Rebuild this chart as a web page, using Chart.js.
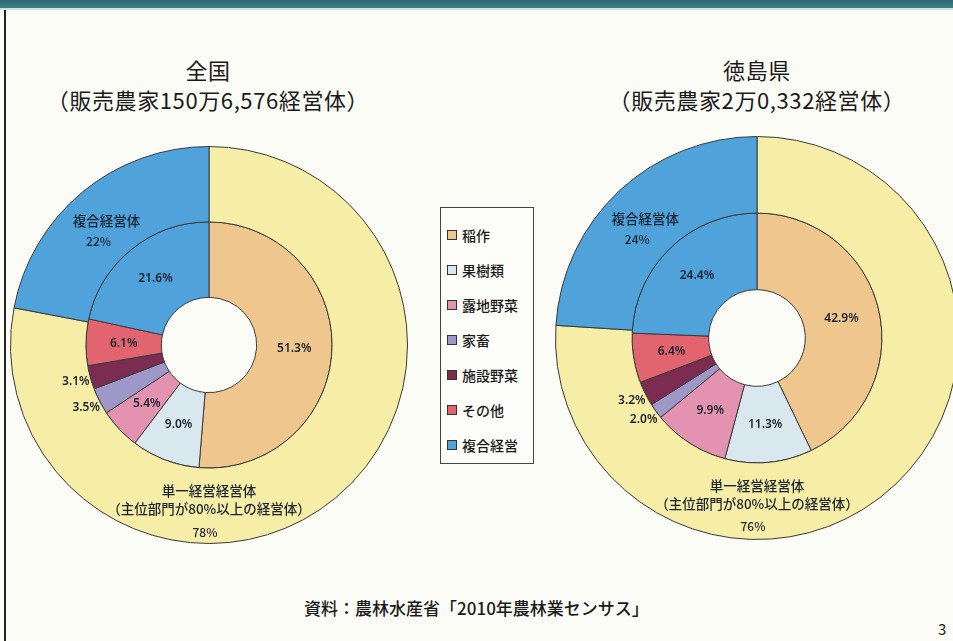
<!DOCTYPE html>
<html>
<head>
<meta charset="utf-8">
<script src="https://cdn.jsdelivr.net/npm/chart.js@4.4.1/dist/chart.umd.min.js"></script>
<style>
   html, body { margin: 0; padding: 0; }
   body {
      width: 953px; height: 641px; position: relative; overflow: hidden;
      background: #fcfcf6;
      font-family: "Noto Sans CJK JP", "Noto Sans", sans-serif; color: #1a1a1a;
   }
   .topbar { position: absolute; left: 0; top: 0; width: 953px; height: 8px; background: linear-gradient(#2c6a72, #3f8088); }
   .topline { position: absolute; left: 0; top: 8px; width: 953px; height: 2px; background: #cfe3e4; }
   .leftline { position: absolute; left: 4px; top: 10px; width: 2px; height: 631px; background: #222; }
   .title { position: absolute; text-align: center; font-size: 22px; line-height: 30px; width: 440px; letter-spacing: 0.6px; }
   .chart-box { position: absolute; }
   .legend {
      position: absolute; left: 440px; top: 207px; width: 94px; height: 257px;
      border: 1px solid #444; box-sizing: border-box; padding-top: 18px; background: #fdfdf9;
   }
   .legend div { height: 35px; font-size: 14px; line-height: 18px; padding-left: 6px; white-space: nowrap; font-weight: 500; }
   .legend span { display: inline-block; width: 8px; height: 8px; border: 1px solid #333; margin-right: 5px; vertical-align: 1px; }
   .source { position: absolute; left: 0; width: 953px; top: 595px; text-align: center; font-size: 17px; font-weight: 500; }
   .page { position: absolute; left: 938px; top: 618px; font-size: 15px; }
</style>
</head>
<body>
<div class="topbar"></div>
<div class="topline"></div>
<div class="leftline"></div>

<div class="title" style="left: -12px; top: 54px;">全国<br>（販売農家150万6,576経営体）</div>
<div class="title" style="left: 537px; top: 54px;">徳島県<br>（販売農家2万0,332経営体）</div>

<div class="chart-box" style="left: 10px; top: 146px;"><canvas id="zenkoku" width="398" height="398"></canvas></div>
<div class="chart-box" style="left: 555px; top: 136px;"><canvas id="tokushima" width="404" height="404"></canvas></div>

<div class="legend" id="legend"></div>

<div class="source">資料：農林水産省「2010年農林業センサス」</div>
<div class="page">3</div>

<script>
// categories
const innerLabels = ['稲作', '果樹類', '露地野菜', '家畜', '施設野菜', 'その他', '複合経営'];
const outerLabels = [['単一経営経営体', '（主位部門が80%以上の経営体）'], ['複合経営体']];

// 全国
const zenkokuOuter = [78, 22];
const zenkokuInner = [51.3, 9.0, 5.4, 3.5, 3.1, 6.1, 21.6];

// 徳島県
const tokushimaOuter = [76, 24];
const tokushimaInner = [42.9, 11.3, 9.9, 2.0, 3.2, 6.4, 24.4];

const outerColors = ['#f6eda6', '#4fa2da'];
const innerColors = ['#efc68e', '#d9e8ef', '#e393b0', '#9e98c8', '#7b2c50', '#e1646e', '#4fa2da'];

// draws the percent labels on the rings
const ringLabels = {
   id: 'ringLabels',
   afterDatasetsDraw(chart) {
      const ctx = chart.ctx;
      ctx.save();
      ctx.fillStyle = '#1c2432';
      ctx.textAlign = 'center';
      ctx.textBaseline = 'middle';

      // outer ring
      const outerMeta = chart.getDatasetMeta(0);
      const outerData = chart.data.datasets[0].data;
      outerMeta.data.forEach((arc, i) => {
         const p = arc.getProps(['x', 'y', 'startAngle', 'endAngle', 'innerRadius', 'outerRadius'], true);
         const lines = outerLabels[i];
         ctx.font = '500 13.5px "Noto Sans CJK JP"';
         if (i === 0) {
            // single-management label sits at the bottom of the ring
            const y0 = p.y + p.innerRadius + 23;
            ctx.fillText(lines[0], p.x, y0);
            ctx.fillText(lines[1], p.x, y0 + 18);
            ctx.font = '500 12px "Noto Sans CJK JP"';
            ctx.fillText(outerData[i] + '%', p.x - 4, y0 + 41);
         } else {
            const mid = (p.startAngle + p.endAngle) / 2;
            const r = (p.innerRadius + p.outerRadius) / 2;
            const x = p.x + Math.cos(mid) * r;
            const y = p.y + Math.sin(mid) * r;
            ctx.fillText(lines[0], x, y);
            ctx.font = '500 12px "Noto Sans CJK JP"';
            ctx.fillText(outerData[i] + '%', x - 8, y + 20);
         }
      });

      // inner ring
      const innerMeta = chart.getDatasetMeta(1);
      const innerData = chart.data.datasets[1].data;
      ctx.font = '600 12px "Noto Sans", sans-serif';
      innerMeta.data.forEach((arc, i) => {
         const p = arc.getProps(['x', 'y', 'startAngle', 'endAngle', 'innerRadius', 'outerRadius'], true);
         const mid = (p.startAngle + p.endAngle) / 2;
         const small = innerData[i] < 4;
         const r = small ? p.outerRadius + 15 : (p.innerRadius + p.outerRadius) / 2;
         const x = p.x + Math.cos(mid) * r;
         const y = p.y + Math.sin(mid) * r;
         ctx.fillText(innerData[i].toFixed(1) + '%', x, y);
      });
      ctx.restore();
   }
};

function makeChart(id, outer, inner) {
   const ctx = document.getElementById(id).getContext('2d');
   return new Chart(ctx, {
      type: 'doughnut',
      data: {
         labels: innerLabels,
         datasets: [
            {
               data: outer,
               backgroundColor: outerColors,
               borderColor: '#3a3a3a',
               borderWidth: 1
            },
            {
               data: inner,
               backgroundColor: innerColors,
               borderColor: '#3a3a3a',
               borderWidth: 1
            }
         ]
      },
      options: {
         responsive: false,
         animation: false,
         cutout: '24%',
         plugins: {
            legend: { display: false },
            tooltip: { enabled: false }
         }
      },
      plugins: [ringLabels]
   });
}

makeChart('zenkoku', zenkokuOuter, zenkokuInner);
makeChart('tokushima', tokushimaOuter, tokushimaInner);

// legend box between the two charts
const legend = document.getElementById('legend');
innerLabels.forEach((label, i) => {
   const div = document.createElement('div');
   const sw = document.createElement('span');
   sw.style.background = innerColors[i];
   div.appendChild(sw);
   div.appendChild(document.createTextNode(label));
   legend.appendChild(div);
});
</script>
</body>
</html>
